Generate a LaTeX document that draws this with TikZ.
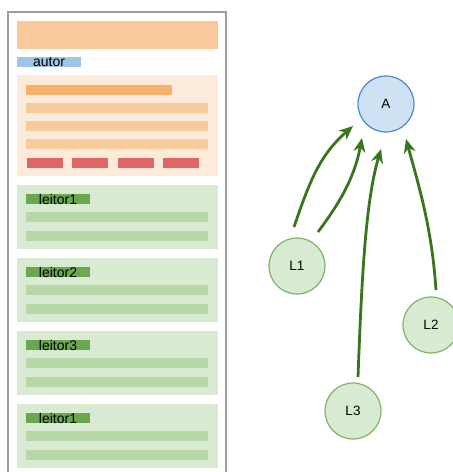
\documentclass[tikz,border=0pt]{standalone}
\usepackage{fontspec}
\setmainfont{Liberation Sans}
\usetikzlibrary{arrows.meta}
\definecolor{frameg}{HTML}{9E9E9E}
\definecolor{hdr}{HTML}{F8C99A}
\definecolor{autorc}{HTML}{9FC5E8}
\definecolor{panelo}{HTML}{FCEBDA}
\definecolor{baro}{HTML}{F6B26B}
\definecolor{lineo}{HTML}{F8C99A}
\definecolor{redb}{HTML}{E06666}
\definecolor{panelg}{HTML}{D9EAD3}
\definecolor{barg}{HTML}{6AA84F}
\definecolor{lineg}{HTML}{B6D7A8}
\definecolor{afill}{HTML}{CFE2F3}
\definecolor{adraw}{HTML}{4A88CC}
\definecolor{lfill}{HTML}{D9EAD3}
\definecolor{ldraw}{HTML}{7EB563}
\definecolor{arr}{HTML}{38761D}
\tikzset{
  lbl/.style={font=\fontsize{14}{15}\selectfont, inner sep=0pt, text=black},
  circA/.style={circle, minimum size=56pt, inner sep=0pt, fill=afill, draw=adraw, line width=1.2pt, font=\fontsize{13.5}{14}\selectfont},
  circL/.style={circle, minimum size=56pt, inner sep=0pt, fill=lfill, draw=ldraw, line width=1.2pt, font=\fontsize{13.5}{14}\selectfont},
  link/.style={draw=arr, line width=2.8pt, -{Stealth[length=14pt,width=12pt,inset=4.5pt]}}
}
\begin{document}
\begin{tikzpicture}[x=1pt,y=-1pt]
\useasboundingbox (0,0) rectangle (453,472);
\clip (0,0) rectangle (453,472);
\fill[white] (0,0) rectangle (453,472);
% outer frame
\draw[frameg, line width=1.3pt, fill=white] (8,12) rectangle (226,490);
% header
\fill[hdr] (17,21) rectangle (218,49);
% autor
\fill[autorc] (17,57) rectangle (81,67);
\node[lbl] (autor) at (49,62.5) {autor};
% orange panel
\fill[panelo] (17,75) rectangle (218,176);
\fill[baro] (26,85) rectangle (172,95);
\foreach \y in {103,121,139} \fill[lineo] (26,\y) rectangle (208,\y+10);
\foreach \x in {27,72,118,163} \fill[redb] (\x,158) rectangle (\x+36,168);
% green panels
\foreach \t/\lab [count=\i from 0] in {185/leitor1,258/leitor2,331/leitor3,404/leitor1}{
  \fill[panelg] (17,\t) rectangle (218,\t+64);
  \fill[barg] (26,\t+9) rectangle (90,\t+19);
  \node[lbl] (leitor\i) at (58,\t+14.5) {\lab};
  \fill[lineg] (26,\t+27) rectangle (208,\t+37);
  \fill[lineg] (26,\t+46) rectangle (208,\t+56);
}
% graph
\node[circA] (A) at (386,104) {A};
\node[circL] (L1) at (297,266) {L1};
\node[circL] (L2) at (431,325) {L2};
\node[circL] (L3) at (353,411) {L3};
\coordinate (s1a) at (294,227);
\coordinate (s1b) at (318,232);
\coordinate (s3) at (358,377);
\coordinate (s2) at (436,290);
\coordinate (t1a) at (353,126);
\coordinate (t1b) at (362,138);
\coordinate (t3) at (381,149);
\coordinate (t2) at (406,139);
\draw[link] (s1a) .. controls (310,180) and (320,155) .. (t1a);
\draw[link] (s1b) .. controls (338,205) and (354,180) .. (t1b);
\draw[link] (s3) .. controls (362,270) and (366,200) .. (t3);
\draw[link] (s2) .. controls (432,230) and (420,190) .. (t2);
\end{tikzpicture}
\end{document}
